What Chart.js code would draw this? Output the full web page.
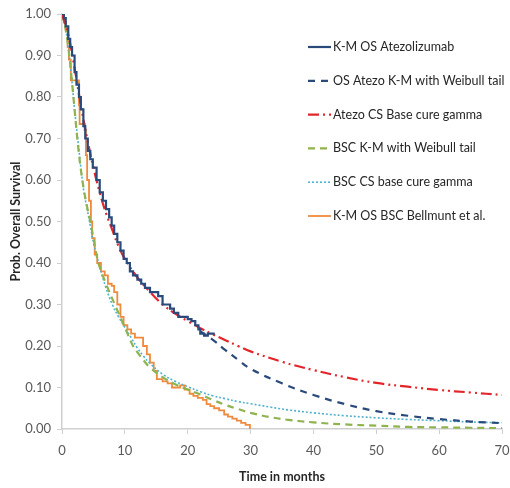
<!DOCTYPE html>
<html>
<head>
<meta charset="utf-8">
<script src="https://cdn.jsdelivr.net/npm/chart.js@4.4.1/dist/chart.umd.min.js"></script>
<style>
  html, body { margin: 0; padding: 0; background: #fff; }
  #wrap { width: 510px; height: 488px; }
</style>
</head>
<body>
<div id="wrap"><canvas id="osChart" width="510" height="488"></canvas></div>
<script>
// ------------------------------------------------------
// Data (months, survival)
// ------------------------------------------------------

const seriesLabels = [
    "K-M OS Atezolizumab",
    "OS Atezo K-M with Weibull tail",
    "Atezo CS Base cure gamma",
    "BSC K-M with Weibull tail",
    "BSC CS base cure gamma",
    "K-M OS BSC Bellmunt et al."
];

const atezoKmTime = [0, 0.3, 0.6, 1.0, 1.3, 1.6, 2.0, 2.3, 2.7, 3.0, 3.4, 3.7, 4.1, 4.5, 4.9, 5.5, 6.0, 6.5, 7.0, 7.5, 7.9, 8.3, 8.8, 9.3, 9.8, 10.3, 10.8, 11.3, 12.0, 12.6, 13.2, 14.0, 15.3, 16.0, 16.6, 17.2, 17.8, 18.5, 20.0, 20.6, 21.2, 21.7, 22.0, 22.6, 23.2, 24.3];
const atezoKmSurv = [1.00, 0.99, 0.97, 0.94, 0.92, 0.90, 0.86, 0.83, 0.80, 0.77, 0.73, 0.70, 0.67, 0.65, 0.63, 0.60, 0.57, 0.55, 0.53, 0.51, 0.49, 0.47, 0.45, 0.43, 0.41, 0.40, 0.38, 0.37, 0.36, 0.35, 0.34, 0.33, 0.32, 0.30, 0.30, 0.29, 0.28, 0.27, 0.265, 0.26, 0.25, 0.24, 0.23, 0.225, 0.23, 0.23];

const atezoWeibullTime = [22, 24, 26, 28, 30, 35, 40, 45, 50, 55, 60, 65, 70];
const atezoWeibullSurv = [0.235, 0.215, 0.19, 0.167, 0.145, 0.11, 0.082, 0.06, 0.043, 0.032, 0.024, 0.018, 0.014];

const atezoCureTime = [0, 1, 2, 3, 4, 5, 6, 7, 8, 9, 10, 12, 14, 16, 18, 20, 22, 24, 26, 28, 30, 35, 40, 45, 50, 55, 60, 65, 70];
const atezoCureSurv = [1.00, 0.95, 0.87, 0.78, 0.70, 0.63, 0.57, 0.52, 0.48, 0.44, 0.41, 0.365, 0.33, 0.30, 0.278, 0.26, 0.243, 0.228, 0.214, 0.20, 0.187, 0.162, 0.142, 0.125, 0.111, 0.102, 0.094, 0.088, 0.082];

const bscWeibullTime = [0, 0.5, 1, 1.5, 2, 2.5, 3, 3.5, 4, 4.5, 5, 5.8, 7, 8.4, 10, 11.3, 12, 13, 14, 16, 18, 20, 22, 24, 26, 28, 30, 33, 36, 40, 45, 50, 55, 60, 65, 70];
const bscWeibullSurv = [1.00, 0.97, 0.92, 0.85, 0.77, 0.69, 0.625, 0.575, 0.535, 0.50, 0.46, 0.40, 0.35, 0.30, 0.245, 0.20, 0.185, 0.165, 0.148, 0.125, 0.108, 0.095, 0.083, 0.07, 0.058, 0.048, 0.039, 0.029, 0.022, 0.016, 0.011, 0.008, 0.005, 0.004, 0.003, 0.002];

const bscCureTime = [0, 0.5, 1, 1.5, 2, 2.5, 3, 3.5, 4, 4.5, 5, 6, 7, 8, 9, 10, 11, 12, 13, 14, 16, 18, 20, 22, 24, 26, 28, 30, 33, 36, 40, 45, 50, 55, 60, 65, 70];
const bscCureSurv = [1.00, 0.97, 0.92, 0.85, 0.77, 0.70, 0.63, 0.57, 0.53, 0.49, 0.45, 0.39, 0.34, 0.30, 0.27, 0.245, 0.22, 0.195, 0.175, 0.158, 0.132, 0.115, 0.102, 0.09, 0.08, 0.073, 0.066, 0.061, 0.053, 0.046, 0.039, 0.032, 0.027, 0.023, 0.02, 0.017, 0.015];

const bscKmTime = [0, 0.3, 0.6, 0.9, 1.1, 1.4, 2.7, 2.8, 3.6, 3.8, 4.0, 4.3, 4.6, 4.8, 5.2, 5.6, 6.2, 6.8, 7.3, 7.9, 8.3, 8.8, 9.3, 9.8, 10.4, 11.0, 11.6, 12.9, 13.5, 14.0, 14.6, 15.1, 16.0, 16.8, 17.5, 18.8, 19.5, 20.3, 20.9, 21.6, 22.4, 23.0, 23.6, 24.2, 25.0, 25.8, 26.4, 27.1, 27.8, 28.5, 29.2, 29.9];
const bscKmSurv = [1.00, 0.98, 0.96, 0.92, 0.89, 0.84, 0.78, 0.735, 0.72, 0.66, 0.60, 0.55, 0.50, 0.46, 0.42, 0.40, 0.38, 0.37, 0.35, 0.345, 0.33, 0.30, 0.27, 0.25, 0.24, 0.23, 0.22, 0.20, 0.18, 0.16, 0.14, 0.12, 0.115, 0.11, 0.10, 0.105, 0.095, 0.085, 0.08, 0.075, 0.07, 0.06, 0.055, 0.05, 0.045, 0.035, 0.03, 0.025, 0.02, 0.015, 0.01, 0.00];

const xTicks = [0, 10, 20, 30, 40, 50, 60, 70];
const yTicks = [0, 0.1, 0.2, 0.3, 0.4, 0.5, 0.6, 0.7, 0.8, 0.9, 1.0];

// ------------------------------------------------------
// Helpers
// ------------------------------------------------------

function toPoints(times, values) {

    return times.map((t, i) => ({ x: t, y: values[i] }));

}

const NAVY = "#2a4a7b";
const RED = "#e3262b";
const GREEN = "#8fb34f";
const BLUE = "#4fb3cf";
const ORANGE = "#f08a3c";

const FONT = "Lato, 'Open Sans', sans-serif";

// ------------------------------------------------------
// Legend drawn inside the plot, top right
// ------------------------------------------------------

const insideLegend = {

    id: "insideLegend",

    afterDraw(chart) {

        const ctx = chart.ctx;

        ctx.save();

        chart.data.datasets.forEach((ds, i) => {

            const y = 47 + i * 33.8;

            ctx.beginPath();
            ctx.strokeStyle = ds.borderColor;
            ctx.lineWidth = ds.borderWidth;
            ctx.setLineDash(ds.borderDash || []);
            ctx.moveTo(308, y);
            ctx.lineTo(331, y);
            ctx.stroke();

            ctx.setLineDash([]);
            ctx.fillStyle = "#262626";
            ctx.font = "12.5px " + FONT;
            ctx.textBaseline = "middle";
            ctx.textAlign = "left";
            ctx.fillText(ds.label, 333, y);

        });

        ctx.restore();

    }

};

// ------------------------------------------------------
// Chart
// ------------------------------------------------------

new Chart(document.querySelector("#osChart"), {

    type: "line",

    data: {

        datasets: [

            {
                label: seriesLabels[0],
                data: toPoints(atezoKmTime, atezoKmSurv),
                borderColor: NAVY,
                borderWidth: 2.2,
                stepped: true
            },

            {
                label: seriesLabels[1],
                data: toPoints(atezoWeibullTime, atezoWeibullSurv),
                borderColor: NAVY,
                borderWidth: 2.2,
                borderDash: [7, 6],
                tension: 0.4
            },

            {
                label: seriesLabels[2],
                data: toPoints(atezoCureTime, atezoCureSurv),
                borderColor: RED,
                borderWidth: 2.2,
                borderDash: [11, 4, 2, 4, 2, 4],
                tension: 0.4
            },

            {
                label: seriesLabels[3],
                data: toPoints(bscWeibullTime, bscWeibullSurv),
                borderColor: GREEN,
                borderWidth: 2.2,
                borderDash: [7, 5],
                tension: 0.4
            },

            {
                label: seriesLabels[4],
                data: toPoints(bscCureTime, bscCureSurv),
                borderColor: BLUE,
                borderWidth: 1.6,
                borderDash: [2, 2],
                tension: 0.4
            },

            {
                label: seriesLabels[5],
                data: toPoints(bscKmTime, bscKmSurv),
                borderColor: ORANGE,
                borderWidth: 1.8,
                stepped: true
            }

        ]

    },

    options: {

        responsive: false,

        animation: false,

        elements: {
            point: { radius: 0 },
            line: { fill: false, borderCapStyle: "butt" }
        },

        layout: {
            padding: { top: 14, right: 8, left: 0, bottom: 0 }
        },

        plugins: {
            legend: { display: false },
            tooltip: { enabled: false }
        },

        scales: {

            x: {
                type: "linear",
                min: 0,
                max: 70,
                afterFit(scale) {
                    scale.height = 59;
                    scale.paddingLeft = 0;
                    scale.paddingRight = 0;
                },
                afterBuildTicks(scale) { scale.ticks = xTicks.map(v => ({ value: v })); },
                ticks: {
                    color: "#595959",
                    font: { family: FONT, size: 13 },
                    padding: 9
                },
                grid: {
                    drawOnChartArea: false,
                    color: "#d0d0d0",
                    tickLength: 5
                },
                border: { color: "#d0d0d0", width: 1.5 },
                title: {
                    display: true,
                    text: "Time in months",
                    color: "#262626",
                    font: { family: FONT, size: 12.5, weight: "bold" },
                    padding: { top: 0, bottom: 4 }
                }
            },

            y: {
                min: 0,
                max: 1,
                afterFit(scale) {
                    scale.width = 62;
                    scale.paddingTop = 0;
                    scale.paddingBottom = 0;
                },
                afterBuildTicks(scale) { scale.ticks = yTicks.map(v => ({ value: v })); },
                ticks: {
                    color: "#595959",
                    font: { family: FONT, size: 13 },
                    padding: 6,
                    callback: v => v.toFixed(2)
                },
                grid: {
                    drawOnChartArea: false,
                    color: "#d0d0d0",
                    tickLength: 5
                },
                border: { color: "#d0d0d0", width: 1.5 },
                title: {
                    display: true,
                    text: "Prob. Overall Survival",
                    color: "#262626",
                    font: { family: FONT, size: 12.5, weight: "bold" },
                    padding: { top: 8, bottom: 0 }
                }
            }

        }

    },

    plugins: [insideLegend]

});
</script>
</body>
</html>
